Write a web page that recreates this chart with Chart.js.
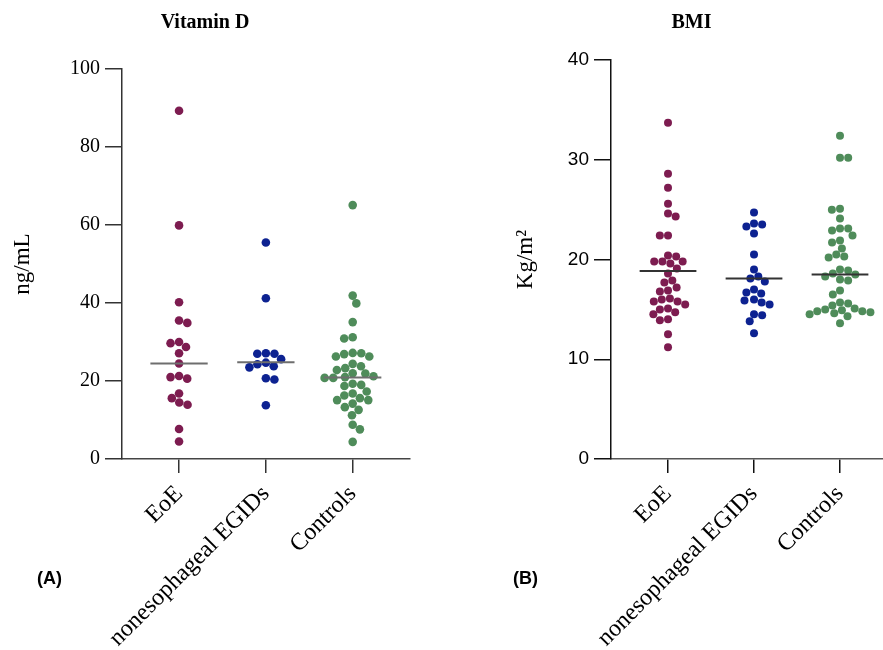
<!DOCTYPE html>
<html>
<head>
<meta charset="utf-8">
<script src="https://cdn.jsdelivr.net/npm/chart.js@4.4.1/dist/chart.umd.min.js"></script>
<style>
  html, body { margin: 0; padding: 0; background: #fff; overflow: hidden; width: 883px; height: 650px; }
  #left { position: absolute; left: 0; top: 0; }
  #right { position: absolute; left: 500px; top: 0; }
  .panel { position: absolute; font: bold 18px "Liberation Sans", Arial, sans-serif; color: #000; }
</style>
</head>
<body>
<canvas id="left" width="460" height="650"></canvas>
<canvas id="right" width="424" height="650"></canvas>
<div class="panel" style="left:37px; top:568px">(A)</div>
<div class="panel" style="left:513px; top:568px">(B)</div>
<script>
const groups = ['EoE', 'nonesophageal EGIDs', 'Controls'];
const colors = ['#7d1c50', '#0d2291', '#4f8c5a'];

// Vitamin D, ng/mL
const vitDEoE = [89.3, 59.9, 40.2, 35.5, 34.9, 30.0, 29.7, 28.7, 27.1, 24.5, 21.3, 21.0, 20.6, 16.8, 15.6, 14.5, 13.9, 7.7, 4.5];
const vitDNonEso = [55.5, 41.2, 27.1, 27.0, 27.0, 25.6, 24.7, 24.3, 23.8, 23.5, 20.7, 20.4, 13.8];
const vitDControls = [65.1, 41.9, 39.9, 35.1, 31.2, 30.9, 27.2, 27.1, 26.9, 26.3, 26.3, 24.4, 23.8, 23.3, 22.8, 22.0, 21.9,
  21.2, 21.0, 20.8, 20.8, 19.3, 19.0, 18.7, 17.3, 16.8, 16.3, 15.6, 15.1, 15.1, 14.2, 13.3, 12.6, 11.2, 8.8, 7.6, 4.4];
const vitDLine = [24.5, 24.8, 20.9];
const vitDTicks = [0, 20, 40, 60, 80, 100];

// BMI, Kg/m2
const bmiEoE = [33.7, 28.6, 27.2, 25.6, 24.6, 24.3, 22.4, 22.4, 20.4, 20.3, 19.8, 19.8, 19.6, 19.8, 19.1, 18.6, 17.7,
  17.9, 16.8, 17.2, 16.9, 16.0, 15.8, 15.8, 16.1, 15.5, 15.1, 15.0, 14.5, 14.7, 13.9, 14.0, 12.5, 11.2];
const bmiNonEso = [24.7, 23.6, 23.5, 23.3, 22.6, 20.5, 19.0, 18.3, 17.8, 18.1, 17.0, 16.7, 16.0, 16.6, 15.7, 15.5, 15.9,
  14.4, 14.5, 13.8, 12.6];
const bmiControls = [32.4, 30.2, 30.2, 25.0, 25.1, 24.1, 22.9, 23.1, 23.1, 22.4, 21.9, 21.7, 21.1, 20.2, 20.3, 20.5, 18.6,
  18.9, 19.0, 18.3, 17.9, 18.0, 18.5, 16.9, 16.5, 15.7, 15.4, 15.6, 15.1, 14.8, 15.0, 14.3, 14.9, 14.6, 14.7, 14.5, 14.8, 13.6];
const bmiLine = [18.85, 18.1, 18.5];
const bmiTicks = [0, 10, 20, 30, 40];

const serif = '"Liberation Serif", "Times New Roman", serif';
const sans = '"Liberation Sans", Arial, sans-serif';

// simple beeswarm: put each dot as close to the centre as it can go without overlap
function swarm(values, chart, cat, diam) {
  const xs = chart.scales.x, ys = chart.scales.y;
  const pxPerCat = xs.getPixelForValue(2) - xs.getPixelForValue(1);
  const order = values.map((v, i) => i).sort((a, b) => values[b] - values[a]);
  const placed = [];
  const out = new Array(values.length);
  let flip = false;
  order.forEach(i => {
    const py = ys.getPixelForValue(values[i]);
    const blocks = placed.filter(p => Math.abs(p.py - py) < diam).map(p => {
      const w = Math.sqrt(diam * diam - (p.py - py) * (p.py - py));
      return [p.dx - w, p.dx + w];
    });
    const cands = [0];
    blocks.forEach(b => cands.push(b[0], b[1]));
    cands.sort((a, b) => Math.abs(a) - Math.abs(b) || (flip ? a - b : b - a));
    const dx = cands.find(c => blocks.every(b => c <= b[0] + 1e-6 || c >= b[1] - 1e-6));
    if (dx !== 0) flip = !flip;
    placed.push({ dx, py });
    out[i] = { x: cat + dx / pxPerCat, y: values[i] };
  });
  return out;
}

function makePanel(id, o) {
  const datasets = o.series.map((vals, i) => ({
    type: 'scatter',
    data: vals.map(v => ({ x: i + 1, y: v })),
    backgroundColor: colors[i],
    borderWidth: 0,
    pointRadius: o.radius,
    pointHoverRadius: o.radius
  }));
  o.lines.forEach((v, i) => datasets.push({
    type: 'line',
    data: [{ x: i + 1 - 0.33, y: v }, { x: i + 1 + 0.33, y: v }],
    borderColor: o.lineColor,
    borderWidth: 2,
    pointRadius: 0,
    fill: false,
    order: -1
  }));

  const chart = new Chart(document.getElementById(id), {
    type: 'scatter',
    data: { datasets },
    options: {
      responsive: false,
      animation: false,
      devicePixelRatio: 1,
      layout: { padding: { right: o.padRight } },
      plugins: {
        legend: { display: false },
        tooltip: { enabled: false },
        title: {
          display: true,
          text: o.title,
          color: '#000',
          font: { family: serif, size: 20, weight: 'bold' },
          padding: { top: 11, bottom: o.titleBottom }
        }
      },
      scales: {
        x: {
          type: 'linear',
          min: o.xMin,
          max: o.xMax,
          afterBuildTicks: s => { s.ticks = groups.map((g, i) => ({ value: i + 1 })); },
          afterFit: s => { s.height = 191; },
          ticks: {
            autoSkip: false,
            minRotation: 45,
            maxRotation: 45,
            padding: 7,
            color: '#000',
            font: { family: serif, size: 24 },
            callback: v => groups[Math.round(v) - 1]
          },
          grid: { drawOnChartArea: false, tickLength: 14, color: o.axisColor, lineWidth: 1.5 },
          border: { color: o.xBorder, width: 1.5 }
        },
        y: {
          min: 0,
          max: o.ticks[o.ticks.length - 1],
          afterBuildTicks: s => { s.ticks = o.ticks.map(v => ({ value: v })); },
          afterFit: s => { s.width = o.yWidth; },
          ticks: { padding: 5, color: '#000', font: o.tickFont },
          grid: { drawOnChartArea: false, tickLength: 17, color: o.axisColor, lineWidth: 1.5 },
          border: { color: o.axisColor, width: 1.5 },
          title: {
            display: true,
            text: o.yTitle,
            color: '#000',
            font: { family: serif, size: 23 },
            padding: { top: o.yTitlePad, bottom: 0 }
          }
        }
      }
    }
  });

  o.series.forEach((vals, i) => {
    chart.data.datasets[i].data = swarm(vals, chart, i + 1, o.diam);
  });
  chart.update('none');
  return chart;
}

makePanel('left', {
  title: 'Vitamin D',
  yTitle: 'ng/mL',
  series: [vitDEoE, vitDNonEso, vitDControls],
  lines: vitDLine,
  ticks: vitDTicks,
  tickFont: { family: serif, size: 20 },
  lineColor: '#6e6e6e',
  axisColor: '#333',
  xBorder: '#444',
  radius: 4.3,
  diam: 8.6,
  xMin: 0.343,
  xMax: 3.66,
  padRight: 50,
  yWidth: 122,
  yTitlePad: 9,
  titleBottom: 34
});

makePanel('right', {
  title: 'BMI',
  yTitle: 'Kg/m\u00b2',
  series: [bmiEoE, bmiNonEso, bmiControls],
  lines: bmiLine,
  ticks: bmiTicks,
  tickFont: { family: sans, size: 19 },
  lineColor: '#333',
  axisColor: '#111',
  xBorder: '#555',
  radius: 4,
  diam: 8.2,
  xMin: 0.337,
  xMax: 3.5,
  padRight: 41,
  yWidth: 111,
  yTitlePad: 12,
  titleBottom: 25
});
</script>
</body>
</html>
